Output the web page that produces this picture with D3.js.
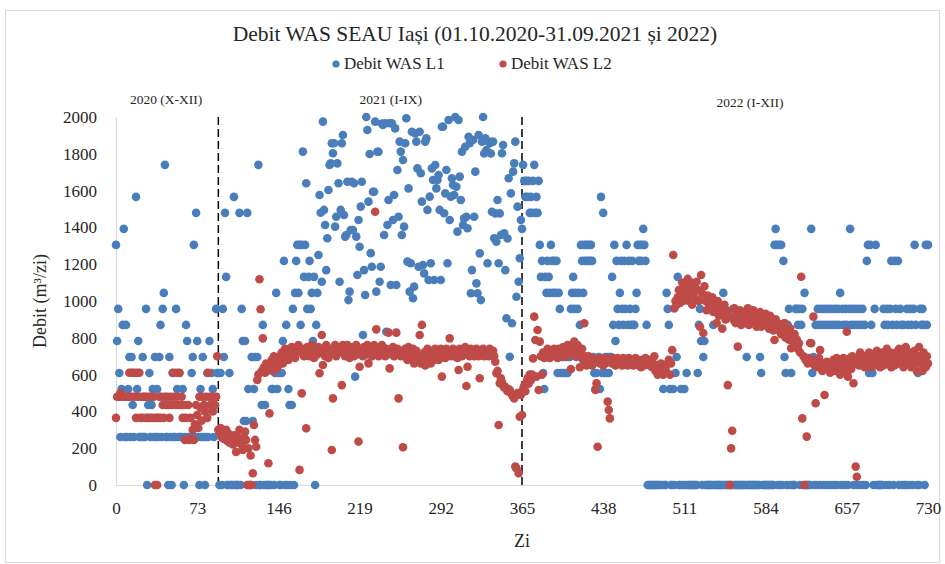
<!DOCTYPE html>
<html>
<head>
<meta charset="utf-8">
<script src="https://cdn.jsdelivr.net/npm/d3@7"></script>
<style>
  body { margin: 0; background: #fff; }
  text { font-family: "Liberation Serif", "Times New Roman", serif; fill: #262626; }
</style>
</head>
<body>
<svg id="chart"></svg>
<script>
// first day index of each period
const periodStart = [0, 92, 365];
const periodNames = ["2020 (X-XII)", "2021 (I-IX)", "2022 (I-XII)"];
const dividerDays = [92, 365];

// Debit WAS L1, m3/zi
const l1_2020 = [1305,783,957,609,261,522,870,1392,261,870,
  261,522,696,261,696,435,261,609,1566,522,
  783,261,261,261,696,261,261,957,0,435,
  609,261,435,522,261,696,261,522,261,696,
  870,261,957,1044,1740,261,261,0,696,261,
  0,609,261,261,957,522,261,609,261,261,
  522,0,261,870,783,261,261,261,609,696,
  1305,261,1479,783,261,0,522,261,696,261,
  0,261,609,261,783,435,609,522,261,435,
  957,609];
const l1_2021 = [609,0,609,0,957,696,1479,1131,0,0,
  609,0,0,0,1566,0,0,0,0,1479,
  0,957,783,348,783,348,1479,522,0,0,
  696,348,522,696,0,696,1740,0,0,435,
  870,0,435,0,0,0,0,0,522,522,
  0,609,1044,522,609,0,0,609,783,1218,
  0,870,0,522,435,0,435,957,0,1044,
  1218,1305,1044,1305,870,1305,1812,1131,1305,1640,
  957,1131,1218,957,1044,783,1131,0,870,1044,
  1250,1576,1480,1105,1975,1495,1413,1168,1341,1603,
  1739,1748,1857,1803,1857,1404,1458,1748,1640,1105,
  1495,1857,1902,1467,1350,1359,1648,1005,1051,1386,
  1648,1386,1640,589,1350,1141,1440,1295,1513,1648,
  815,1168,1033,2000,1929,1540,1799,1260,1186,1594,
  1594,1975,1051,1811,1811,1105,1186,1965,1957,1359,
  1966,833,1413,1549,1966,1087,1966,1440,1576,1938,
  1087,1712,1458,1866,1812,1359,1766,1404,1857,1993,
  1214,1612,1051,1205,1920,1015,1078,1911,1866,1721,
  1186,1920,1694,1540,1196,1150,1866,1884,1495,1114,
  1567,1205,1721,1658,1114,1739,1612,1658,1685,1495,
  1114,1947,1947,1477,1585,1712,1205,1984,1440,1567,
  1667,1630,1576,2000,1621,1377,1984,1676,1549,1811,
  1413,1449,1838,1458,1395,1893,1857,1042,1168,1875,
  1458,1703,1096,1042,1902,1259,1005,1866,2000,1802,
  1884,1820,1205,1866,1857,1802,1485,1866,1341,1476,
  1322,1549,1205,1476,1359,1803,1848,1368,1168,906,
  1340,1667,697,1585,879,1703,1748,1866,1023,1513,
  1105,1232,1440];
const l1_2022 = [1392,1740,1653,1566,1653,1566,1653,1479,1566,1479,
  1653,1740,1479,1566,1479,1653,1305,1131,1218,609,
  522,1131,1044,1218,1131,1044,1305,1218,1044,1218,
  1044,1218,609,1044,957,609,696,609,696,609,
  696,609,696,696,957,1044,1131,957,1044,696,
  957,1044,870,1305,1218,1044,1305,1218,1305,1218,
  1305,1218,1305,1218,696,609,522,609,522,696,
  522,1566,609,1479,609,696,609,696,609,696,
  696,1131,870,1305,783,1218,957,870,1044,1218,
  957,870,1218,957,1305,870,1218,957,870,1218,
  870,870,957,1044,1305,1218,1305,1218,1305,1392,
  1305,1218,870,0,0,0,0,0,0,0,
  0,0,0,0,609,0,0,522,0,0,
  1044,957,870,522,0,0,522,0,609,696,
  1131,0,0,522,0,0,522,0,609,0,
  0,0,0,0,0,0,0,0,609,870,
  957,783,0,696,783,0,0,0,0,0,
  0,0,870,0,0,0,0,0,0,0,
  0,1044,0,0,0,0,0,0,0,0,
  957,0,0,0,0,0,0,0,0,0,
  0,0,696,0,0,0,0,0,0,0,
  0,0,0,0,696,609,0,0,0,0,
  0,0,0,0,0,0,0,1305,1392,1305,
  0,1305,0,1305,0,1218,696,609,0,870,
  957,0,609,0,0,0,957,957,870,957,
  0,870,957,0,1044,0,0,0,0,0,
  1392,609,696,0,870,0,957,870,0,957,
  870,0,957,870,0,957,870,0,957,870,
  0,957,870,0,957,870,1044,0,957,870,
  0,957,870,0,957,1392,870,957,0,870,
  957,0,870,957,0,870,957,0,870,0,
  1218,1305,609,1305,870,609,0,957,1305,0,
  0,0,0,0,0,957,870,0,957,870,
  0,957,1218,870,0,1218,957,870,1218,0,
  957,870,0,870,0,0,957,870,0,957,
  870,0,957,1305,870,0,609,0,957,870,
  957,870,0,1305,870,1305];

// Debit WAS L2, m3/zi
const l2_2020 = [365,480,480,480,500,480,480,480,480,480,
  480,480,610,480,610,480,610,480,365,610,
  480,610,365,480,365,480,480,365,480,365,
  480,365,480,365,480,0,365,0,365,480,
  365,480,435,365,480,435,480,435,365,480,
  435,610,480,435,610,480,435,610,435,480,
  365,435,245,365,250,435,245,365,250,300,
  245,330,435,380,310,480,420,350,480,435,
  400,480,365,610,480,435,480,400,480,435,
  480,700];
const l2_2021 = [300,290,310,260,280,250,270,300,240,280,
  230,260,250,220,270,240,180,260,230,300,
  250,220,190,260,290,245,0,200,0,160,
  0,64,326,245,208,571,600,1118,955,620,
  797,640,610,660,620,118,389,650,680,620,
  700,660,630,690,650,700,680,720,660,700,
  740,700,720,680,740,710,750,700,730,690,
  740,720,760,82,720,498,740,700,730,308,
  750,720,700,740,760,720,690,740,730,710,
  750,607,720,815,652,740,700,760,720,690,
  740,720,190,471,730,760,700,740,720,750,
  730,543,760,720,700,740,760,720,690,740,
  720,750,700,730,760,710,236,643,740,720,
  700,750,730,710,760,661,720,740,700,730,
  760,1485,846,720,700,740,720,760,710,730,
  700,740,720,828,634,730,710,750,700,720,
  828,740,471,720,700,730,205,700,740,720,
  680,750,700,720,690,740,660,710,730,680,
  700,815,660,870,690,720,650,700,740,680,
  710,660,730,700,680,740,700,720,680,710,
  740,589,700,720,690,740,710,730,797,700,
  720,740,700,730,710,690,625,740,720,700,
  730,710,750,538,643,720,700,740,710,730,
  700,720,740,710,700,580,730,720,740,700,
  720,710,730,700,740,720,710,730,700,670,
  607,620,326,553,580,560,540,530,534,520,
  510,520,516,500,490,480,470,100,91,500,
  64,371,490];
const l2_2022 = [380,520,540,510,560,580,550,600,570,600,
  688,915,788,589,842,516,779,700,600,720,
  690,720,700,740,710,690,730,700,720,740,
  700,720,690,740,710,730,700,750,720,740,
  700,760,720,740,630,760,720,780,700,740,
  760,720,640,700,740,680,879,700,650,680,
  700,660,680,650,690,670,516,553,208,680,
  660,690,670,650,680,660,690,453,408,362,
  670,660,690,680,650,670,690,660,680,670,
  650,690,660,680,670,650,690,670,660,680,
  650,670,690,660,680,650,670,640,680,660,
  650,690,670,660,680,650,670,640,660,700,
  620,650,600,640,610,660,620,600,650,630,
  610,660,680,600,661,733,1250,960,1000,980,
  1020,1060,990,1040,1100,1000,1050,1080,1020,1120,
  1000,1060,1100,980,1040,1090,1010,1105,1060,1000,
  860,1141,1040,826,1080,1000,950,1030,980,1000,
  960,1020,940,990,960,880,1000,920,960,960,
  850,940,980,900,950,543,920,0,199,295,
  900,960,880,930,752,900,950,870,920,890,
  940,880,910,960,870,930,900,880,950,900,
  920,860,900,880,940,860,910,890,870,930,
  880,900,850,920,870,890,840,788,900,860,
  880,840,870,820,860,830,880,800,840,810,
  790,850,743,800,780,820,760,790,740,770,
  720,1132,362,700,0,680,263,660,690,772,
  770,680,915,650,444,670,640,690,733,650,
  620,660,489,640,670,630,650,610,660,640,
  680,620,650,690,630,660,600,670,640,690,
  620,660,833,589,650,690,630,700,553,660,
  100,45,690,650,720,670,690,700,640,680,
  700,660,720,640,690,670,710,650,690,730,
  660,700,640,680,720,650,700,670,740,660,
  690,720,640,700,680,650,720,690,660,740,
  700,670,720,640,690,750,660,700,680,720,
  640,700,660,730,680,620,700,750,660,690,
  620,720,680,640,700,660];

const xTicks = [0, 73, 146, 219, 292, 365, 438, 511, 584, 657, 730];
const yTicks = [0, 200, 400, 600, 800, 1000, 1200, 1400, 1600, 1800, 2000];

const seriesNames = ["Debit WAS L1", "Debit WAS L2"];
const colors = ["#4a7ebb", "#be4b48"];

function toPoints(parts) {
  const pts = [];
  parts.forEach((arr, p) => {
    arr.forEach((v, i) => pts.push({day: periodStart[p] + i, value: v}));
  });
  return pts;
}

const series = [
  toPoints([l1_2020, l1_2021, l1_2022]),
  toPoints([l2_2020, l2_2021, l2_2022])
];

const width = 945, height = 564;
const margin = {top: 117, right: 17, bottom: 79, left: 116};

const svg = d3.select("#chart")
  .attr("width", width)
  .attr("height", height)
  .attr("viewBox", [0, 0, width, height]);

// outer frame of the chart object
svg.append("rect")
  .attr("x", 5.5).attr("y", 10.5)
  .attr("width", 934).attr("height", 552)
  .attr("fill", "#fff")
  .attr("stroke", "#d9d9d9");

const x = d3.scaleLinear()
  .domain([0, 730])
  .range([margin.left, width - margin.right]);

const y = d3.scaleLinear()
  .domain([0, 2000])
  .range([height - margin.bottom, margin.top]);

// axes
const xAxis = g => g
  .attr("transform", `translate(0,${y(0)})`)
  .call(d3.axisBottom(x).tickValues(xTicks).tickFormat(d3.format("d")).tickSize(0).tickPadding(17))
  .call(g => g.select(".domain").attr("stroke", "#d9d9d9"));

const yAxis = g => g
  .attr("transform", `translate(${x(0)},0)`)
  .call(d3.axisLeft(y).tickValues(yTicks).tickFormat(d3.format("d")).tickSize(0).tickPadding(19))
  .call(g => g.select(".domain").attr("stroke", "#d9d9d9"));

svg.append("g").call(xAxis)
  .selectAll("text")
  .style("font-size", "17px")
  .style("font-family", "'Liberation Serif', serif")
  .attr("fill", "#262626");

svg.append("g").call(yAxis)
  .selectAll("text")
  .style("font-size", "17px")
  .style("font-family", "'Liberation Serif', serif")
  .attr("fill", "#262626");

// period dividers
svg.append("g")
  .selectAll("line")
  .data(dividerDays)
  .join("line")
  .attr("x1", d => x(d)).attr("x2", d => x(d))
  .attr("y1", y(2000)).attr("y2", y(0))
  .attr("stroke", "#000")
  .attr("stroke-width", 1.5)
  .attr("stroke-dasharray", "8,4");

// period labels
const labelDays = [45, 247, 570];
const labelY = [104, 104, 107];
svg.append("g")
  .selectAll("text")
  .data(periodNames)
  .join("text")
  .attr("x", (d, i) => x(labelDays[i]))
  .attr("y", (d, i) => labelY[i])
  .attr("text-anchor", "middle")
  .style("font-size", "13.5px")
  .text(d => d);

// scatter: L1 first, L2 drawn on top
series.forEach((pts, s) => {
  svg.append("g")
    .attr("fill", colors[s])
    .selectAll("circle")
    .data(pts.filter(d => d.value != null))
    .join("circle")
    .attr("cx", d => x(d.day))
    .attr("cy", d => y(d.value))
    .attr("r", 4.3);
});

// title
svg.append("text")
  .attr("x", 475)
  .attr("y", 41)
  .attr("text-anchor", "middle")
  .style("font-size", "21.5px")
  .text("Debit WAS SEAU Iași (01.10.2020-31.09.2021 și 2022)");

// legend
const legendX = [336, 503];
const legend = svg.append("g")
  .selectAll("g")
  .data(seriesNames)
  .join("g")
  .attr("transform", (d, i) => `translate(${legendX[i]},69)`);
legend.append("circle")
  .attr("r", 3.6)
  .attr("cy", -5)
  .attr("fill", (d, i) => colors[i]);
legend.append("text")
  .attr("x", 8)
  .style("font-size", "17px")
  .text(d => d);

// axis titles
svg.append("text")
  .attr("transform", `translate(46,${(y(0) + y(2000)) / 2}) rotate(-90)`)
  .attr("text-anchor", "middle")
  .style("font-size", "18px")
  .text("Debit (m³/zi)");

svg.append("text")
  .attr("x", (x(0) + x(730)) / 2)
  .attr("y", 547)
  .attr("text-anchor", "middle")
  .style("font-size", "18px")
  .text("Zi");
</script>
</body>
</html>
